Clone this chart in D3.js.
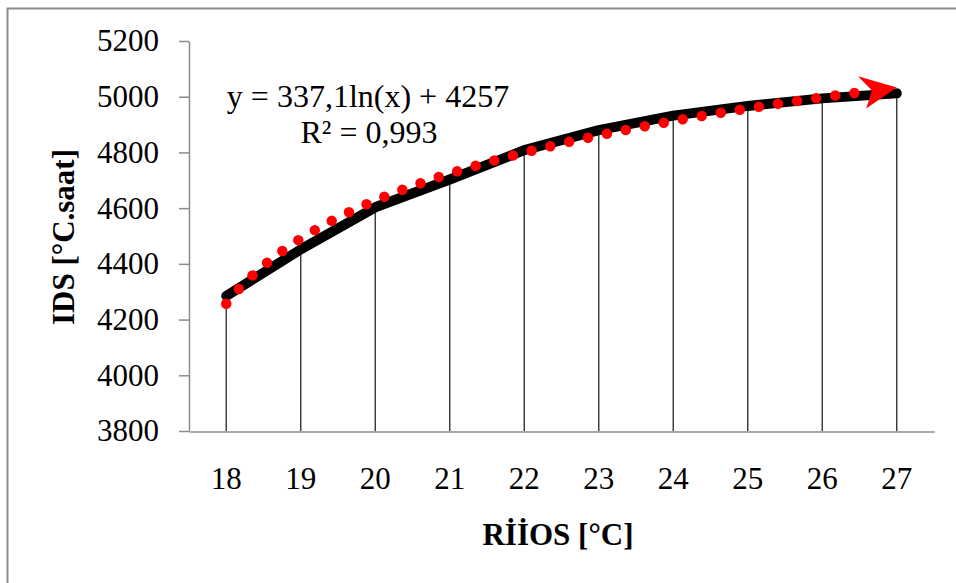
<!DOCTYPE html>
<html>
<head>
<meta charset="utf-8">
<script src="https://cdn.jsdelivr.net/npm/d3@7"></script>
<style>
  html, body { margin: 0; padding: 0; background: #fff; }
  svg { display: block; }
  text { font-family: "Liberation Serif", "Times New Roman", serif; fill: #000; }
</style>
</head>
<body>
<svg id="chart" width="956" height="583"></svg>
<script>
// Categories (RİİOS, °C) and measured IDS values (°C.saat)
const categories = ["18", "19", "20", "21", "22", "23", "24", "25", "26", "27"];
const idsValues = [4285, 4452, 4603, 4703, 4808, 4880, 4932, 4967, 4994, 5012];
const yTicks = [3800, 4000, 4200, 4400, 4600, 4800, 5000, 5200];

// Logarithmic trendline: y = a ln(x) + b, x = category index (1..n)
const trendA = 337.1;
const trendB = 4257;
const trendLabel = "y = 337,1ln(x) + 4257";
const r2Label = "R² = 0,993";

const svg = d3.select("#chart");

// Chart frame
svg.append("path")
  .attr("d", "M7.5,583 V8.5 H956")
  .attr("fill", "none")
  .attr("stroke", "#8a8a8a")
  .attr("stroke-width", 2);

const plot = { left: 189, right: 934, top: 41, bottom: 431 };

const x = d3.scaleBand().domain(categories).range([plot.left, plot.right]).padding(0);
const y = d3.scaleLinear().domain([3800, 5200]).range([plot.bottom, plot.top]);
const cx = c => x(c) + x.bandwidth() / 2;
// continuous index scale for the trendline
const xi = d3.scaleLinear().domain([1, categories.length])
  .range([cx(categories[0]), cx(categories[categories.length - 1])]);

// Y axis
const yAxis = svg.append("g")
  .attr("transform", `translate(${plot.left},0)`)
  .call(d3.axisLeft(y).tickValues(yTicks).tickFormat(d3.format("d"))
    .tickSize(10).tickSizeOuter(0).tickPadding(20));
yAxis.select(".domain").attr("stroke", "#8c8c8c").attr("stroke-width", 1.5);
yAxis.selectAll(".tick line").attr("stroke", "#8c8c8c").attr("stroke-width", 1.5);
yAxis.selectAll(".tick text")
  .attr("font-size", 31)
  .attr("font-family", "'Liberation Serif', 'Times New Roman', serif")
  .attr("fill", "#000");

// Drop lines from each point to the axis
svg.append("g").selectAll("line")
  .data(idsValues)
  .join("line")
  .attr("x1", (d, i) => cx(categories[i]))
  .attr("x2", (d, i) => cx(categories[i]))
  .attr("y1", d => y(d))
  .attr("y2", y(3800))
  .attr("stroke", "#333")
  .attr("stroke-width", 1.4);

// X axis
const xAxis = svg.append("g")
  .attr("transform", `translate(0,${y(3800) + 0.5})`)
  .call(d3.axisBottom(x).tickSize(0).tickPadding(35));
xAxis.select(".domain").attr("stroke", "#8c8c8c").attr("stroke-width", 1.5);
xAxis.selectAll(".tick text")
  .attr("font-size", 31)
  .attr("font-family", "'Liberation Serif', 'Times New Roman', serif")
  .attr("fill", "#000");

// Data line
const dataLine = d3.line()
  .x((d, i) => cx(categories[i]))
  .y(d => y(d));
svg.append("path")
  .datum(idsValues)
  .attr("d", dataLine)
  .attr("fill", "none")
  .attr("stroke", "#000")
  .attr("stroke-width", 10)
  .attr("stroke-linecap", "round")
  .attr("stroke-linejoin", "round");

// Trendline (round dotted, red) ending in an arrowhead
const trend = t => trendA * Math.log(t) + trendB;
const n = categories.length;
const tEnd = n - 0.38;
const samples = d3.range(1, tEnd, 0.02).concat([tEnd]);
svg.append("path")
  .datum(samples)
  .attr("d", d3.line().x(t => xi(t)).y(t => y(trend(t))))
  .attr("fill", "none")
  .attr("stroke", "#ff0000")
  .attr("stroke-width", 10.5)
  .attr("stroke-linecap", "round")
  .attr("stroke-dasharray", "0 19.3");

// Arrowhead oriented along the trend tangent at the last category
const tipX = xi(n), tipY = y(trend(n));
const backX = xi(n - 0.05), backY = y(trend(n - 0.05));
const ang = Math.atan2(tipY - backY, tipX - backX) * 180 / Math.PI;
svg.append("path")
  .attr("d", "M0,0 L-37,-16 L-25,0 L-33,17 Z")
  .attr("transform", `translate(${tipX},${tipY}) rotate(${ang})`)
  .attr("fill", "#ff0000");

// Equation labels
const eq = svg.append("g").attr("text-anchor", "middle").attr("font-size", 32);
eq.append("text").attr("x", 368).attr("y", 107).text(trendLabel);
eq.append("text").attr("x", 369).attr("y", 143).text(r2Label);

// Axis titles
svg.append("text")
  .attr("x", 558).attr("y", 545)
  .attr("text-anchor", "middle")
  .attr("font-size", 31)
  .attr("font-weight", "bold")
  .text("RİİOS [°C]");

svg.append("text")
  .attr("transform", "translate(74,237) rotate(-90)")
  .attr("text-anchor", "middle")
  .attr("font-size", 31)
  .attr("font-weight", "bold")
  .text("IDS [°C.saat]");
</script>
</body>
</html>
